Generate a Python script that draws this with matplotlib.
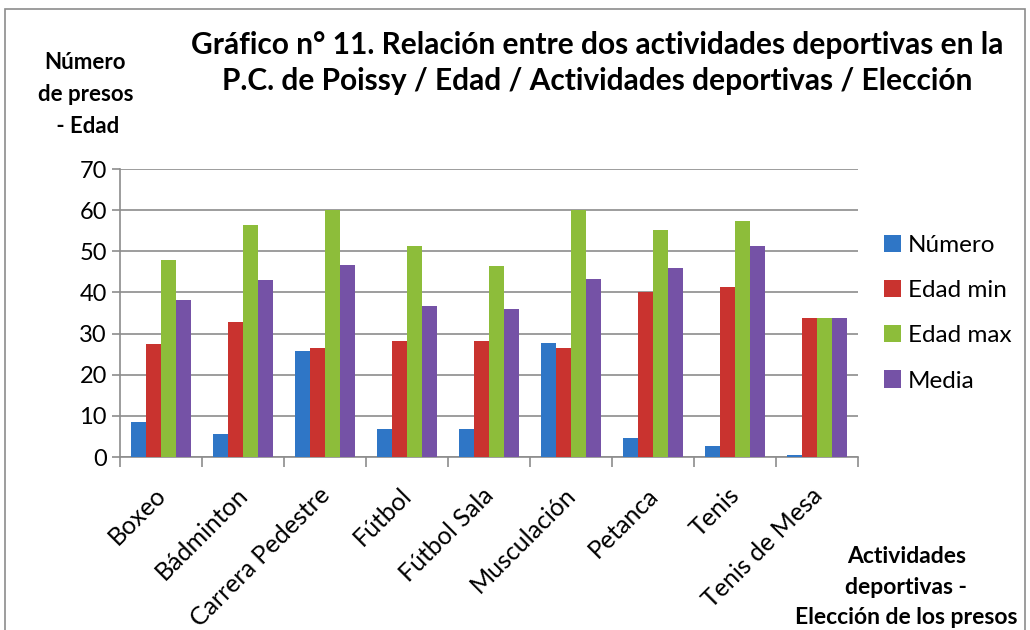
import matplotlib.pyplot as plt
import matplotlib.transforms as mtrans
import numpy as np
from matplotlib.patches import Rectangle

plt.rcParams['font.family'] = ['Lato', 'DejaVu Sans']

# --- data -------------------------------------------------------------------
actividades = ["Boxeo", "Bádminton", "Carrera Pedestre", "Fútbol", "Fútbol Sala",
               "Musculación", "Petanca", "Tenis", "Tenis de Mesa"]
numero = [8.5, 5.6, 25.7, 6.7, 6.7, 27.6, 4.7, 2.6, 0.6]
edad_min = [27.4, 32.8, 26.5, 28.2, 28.2, 26.5, 40.2, 41.4, 33.9]
edad_max = [47.8, 56.3, 60.1, 51.2, 46.5, 60.1, 55.1, 57.3, 33.9]
media = [38.1, 43.0, 46.7, 36.6, 36.0, 43.3, 45.9, 51.3, 33.9]

series = [("Número", numero, "#2f76c6"),
          ("Edad min", edad_min, "#c9332f"),
          ("Edad max", edad_max, "#8dbd3a"),
          ("Media", media, "#7552a6")]

fig = plt.figure(figsize=(10.3, 6.3), dpi=100)
ax = fig.add_axes([0.1165, 0.2746, 0.7165, 0.4571])

# outer chart border
fig.patches.append(Rectangle((0.005, -0.01), 0.99, 0.995, transform=fig.transFigure,
                             fill=False, edgecolor="#8c8c8c", linewidth=1.2))

x = np.arange(len(actividades))
w = 0.183
for i, (name, vals, col) in enumerate(series):
    ax.bar(x + (i - 1.5) * w, vals, w, color=col, label=name, zorder=3)

ax.set_xlim(-0.5, len(actividades) - 0.5)
ax.set_ylim(0, 70)
ax.set_yticks(range(0, 71, 10))
ax.yaxis.grid(True, color="#8c8c8c", linewidth=1.2, zorder=0)
for s in ["top", "right"]:
    ax.spines[s].set_visible(False)
for s in ["left", "bottom"]:
    ax.spines[s].set_color("#8c8c8c")
    ax.spines[s].set_linewidth(1.2)

ax.set_xticks(x)
ax.set_xticklabels(actividades, rotation=45, ha="right", rotation_mode="anchor",
                   fontsize=18)
ax.tick_params(axis="x", length=0, pad=19)
shift = mtrans.ScaledTranslation(-7 / 100, 0, fig.dpi_scale_trans)
for lbl in ax.get_xticklabels():
    lbl.set_transform(lbl.get_transform() + shift)
ax.set_xticks(np.arange(-0.5, len(actividades)), minor=True)
ax.tick_params(axis="x", which="minor", length=7, color="#8c8c8c", width=1.2)
ax.tick_params(axis="y", labelsize=17, length=6, color="#8c8c8c", width=1.2)

fig.text(0.58, 0.9, "Gráfico n° 11. Relación entre dos actividades deportivas en la\n"
         "P.C. de Poissy / Edad / Actividades deportivas / Elección",
         ha="center", va="center", fontsize=21.5, fontweight="bold", linespacing=1.35)

fig.text(0.083, 0.85, "Número\nde presos\n - Edad", ha="center", va="center",
         fontsize=16, fontweight="bold", linespacing=1.65)

fig.text(0.88, 0.068, "Actividades\ndeportivas -\nElección de los presos",
         ha="center", va="center", fontsize=16.5, fontweight="bold", linespacing=1.55)

ax.legend(loc="center left", bbox_to_anchor=(1.005, 0.5), frameon=False,
          fontsize=17.5, handlelength=0.7, handleheight=0.7, labelspacing=1.0,
          handletextpad=0.3)

fig.savefig("out.png", dpi=100)
